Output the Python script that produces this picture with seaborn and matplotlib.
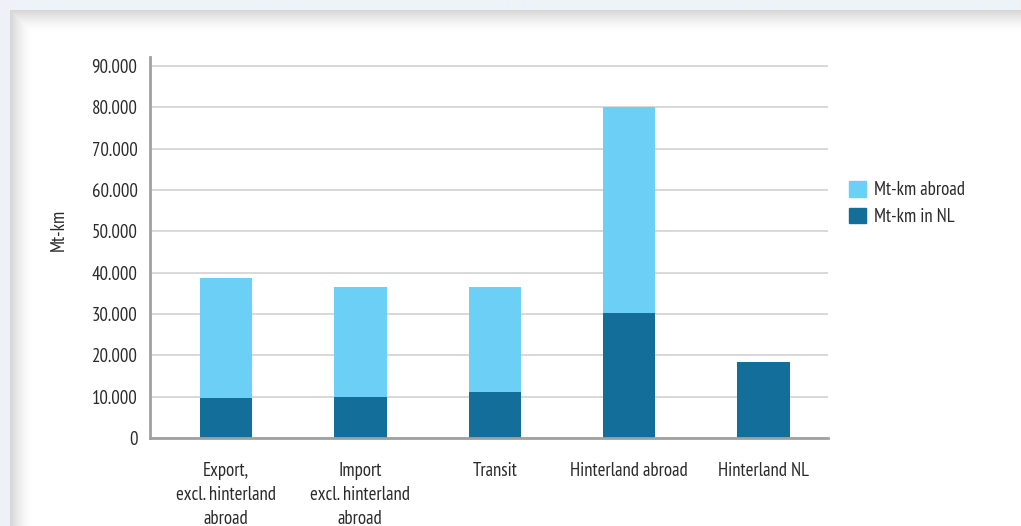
import numpy as np
import pandas as pd
import matplotlib
matplotlib.use("Agg")
import matplotlib.pyplot as plt
import matplotlib.patches as mpatches
from matplotlib import font_manager
import seaborn as sns

# Freight performance by transport category (million tonne-km)
categories = ["Export,\nexcl. hinterland\nabroad", "Import\nexcl. hinterland\nabroad",
              "Transit", "Hinterland abroad", "Hinterland NL"]
mtkm_in_nl = [9700, 9900, 11100, 30200, 18400]
mtkm_abroad = [29000, 26600, 25400, 49800, 0]
y_ticks = [0, 10000, 20000, 30000, 40000, 50000, 60000, 70000, 80000, 90000]
y_tick_labels = ["0", "10.000", "20.000", "30.000", "40.000", "50.000",
                 "60.000", "70.000", "80.000", "90.000"]

df = pd.DataFrame({
    "category": categories,
    "nl": mtkm_in_nl,
    "abroad": mtkm_abroad,
})
df["total"] = df["nl"] + df["abroad"]

sns.set_theme(style="white")
installed = {f.name for f in font_manager.fontManager.ttflist}
preferred = [f for f in ["PT Sans Narrow", "Roboto Condensed", "Liberation Sans Narrow"]
             if f in installed]
plt.rcParams["font.family"] = preferred + ["DejaVu Sans"]

LIGHT = "#6bcff6"
DARK = "#136e9a"
TEXT = "#2a2a2a"
FS = 13.5

W, H = 1021, 526
fig = plt.figure(figsize=(W / 100, H / 100), dpi=100)
fig.patch.set_facecolor("#eef3f8")

# card background with soft inner shadow along its top and left edges
bg = fig.add_axes([0, 0, 1, 1], zorder=-10)
bg.set_axis_off()
img = np.ones((H, W, 3))
outer = np.array([0xee, 0xf3, 0xf8]) / 255.0
yy, xx = np.mgrid[0:H, 0:W]
card = (xx >= 10) & (yy >= 10)
dist = np.minimum(np.where(xx >= 10, xx - 10, 0), np.where(yy >= 10, yy - 10, 0))
shade = 1 - 0.16 * np.clip(1 - dist / 22.0, 0, 1) ** 1.6
for c in range(3):
    img[..., c] = np.where(card, shade, outer[c])
bg.imshow(img, extent=[0, W, H, 0], aspect="auto", interpolation="bilinear")
bg.set_xlim(0, W)
bg.set_ylim(H, 0)

ax = fig.add_axes([150 / W, 1 - 438 / H, (828 - 150) / W, (438 - 57) / H])
ax.set_facecolor("none")

sns.barplot(data=df, x="category", y="total", color=LIGHT, width=0.39,
            saturation=1, ax=ax, zorder=3, edgecolor="none")
sns.barplot(data=df, x="category", y="nl", color=DARK, width=0.39,
            saturation=1, ax=ax, zorder=4, edgecolor="none")

ax.set_xlim(-0.565, 4.48)
ax.set_ylim(0, 92200)
ax.set_yticks(y_ticks)
ax.set_yticklabels(y_tick_labels)
ax.yaxis.grid(True, color="#d2d2d2", linewidth=1.2, zorder=0)
ax.set_axisbelow(True)
ax.tick_params(axis="y", length=0, pad=9, labelsize=FS, labelcolor=TEXT)
ax.tick_params(axis="x", length=0, pad=17.5, labelsize=FS, labelcolor=TEXT)
for lbl in ax.get_xticklabels():
    lbl.set_linespacing(1.4)
    lbl.set_verticalalignment("top")

ax.set_xlabel("")
ax.set_ylabel("Mt-km", fontsize=FS, color=TEXT)
ax.yaxis.set_label_coords(-0.122, 0.546)

for side in ["top", "right"]:
    ax.spines[side].set_visible(False)
for side in ["left", "bottom"]:
    ax.spines[side].set_color("#a0a0a0")
    ax.spines[side].set_linewidth(2)
    ax.spines[side].set_zorder(6)

handles = [mpatches.Patch(color=LIGHT, label="Mt-km abroad"),
           mpatches.Patch(color=DARK, label="Mt-km in NL")]
fig.legend(handles=handles, loc="upper left", bbox_to_anchor=(836 / W, 1 - 168 / H),
           frameon=False, fontsize=FS, handlelength=0.9, handleheight=0.9,
           handletextpad=0.45, labelspacing=0.45, labelcolor=TEXT, borderpad=0.2)

fig.savefig("out.png", dpi=100)
